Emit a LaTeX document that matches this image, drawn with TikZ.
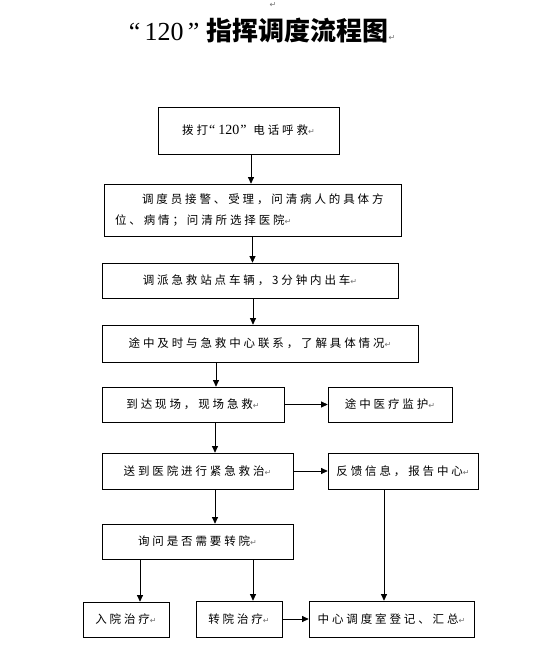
\documentclass[tikz,border=0pt]{standalone}
\usepackage{fontspec}
\setmainfont{Liberation Serif}
\newfontfamily\cjk[LetterSpace=25]{Noto Sans CJK SC}
\newfontfamily\cjktitle{Noto Sans CJK SC}
\newfontfamily\markfont{DejaVu Sans}
\usetikzlibrary{arrows.meta}
\newcommand{\pmark}{{\markfont\fontsize{8}{8}\selectfont\textcolor{black!55}{↵}}}

\begin{document}
\begin{tikzpicture}[x=1pt, y=-1pt,
        box/.style={draw, line width=0.7pt, inner sep=0pt,
                    font=\cjk\fontsize{11.5}{13}\selectfont},
        arr/.style={-{Triangle[length=6.5pt,width=6pt]}, line width=0.7pt}]
            \useasboundingbox (0,0) rectangle (548,661);
            % Title
            \node (topmark) at (273,5) {\pmark};
            \node (title) at (262,31) {\fontsize{26}{30}\selectfont “\,120\,”\hspace{7pt}{\cjktitle\bfseries 指挥调度流程图}\pmark};
            % Main column
            \node[box, minimum width=181pt, minimum height=47pt] (call)     at (248.5,130.5) {拨打\hspace{1pt}{\rmfamily\fontsize{14}{14}\selectfont“\hspace{3pt}120\hspace{1pt}”}\hspace{7pt}电话呼救\pmark};
            \node[box, minimum width=297pt, minimum height=52pt, text width=275pt, align=left, inner xsep=11pt,
                  font=\cjk\fontsize{11.5}{21}\selectfont]                     (accept)   at (252.5,210)   {\hspace*{27pt}调度员接警、受理，问清病人的具体方\\位、病情；问清所选择医院\pmark};
            \node[box, minimum width=296pt, minimum height=35pt] (dispatch) at (250,280.5)   {调派急救站点车辆，3分钟内出车\pmark};
            \node[box, minimum width=316pt, minimum height=37pt] (contact)  at (260,343.5)   {途中及时与急救中心联系，了解具体情况\pmark};
            \node[box, minimum width=182pt, minimum height=35pt] (arrive)   at (193,404.5)   {到达现场，现场急救\pmark};
            \node[box, minimum width=191pt, minimum height=36pt] (hospital) at (197.5,471)   {送到医院进行紧急救治\pmark};
            \node[box, minimum width=191pt, minimum height=35pt] (ask)      at (197.5,541.5) {询问是否需要转院\pmark};
            % Side column
            \node[box, minimum width=124pt, minimum height=35pt] (monitor)  at (390,404.5)   {途中医疗监护\pmark\hspace{8pt}};
            \node[box, minimum width=150pt, minimum height=36pt] (feedback) at (403,471)     {反馈信息，报告中心\pmark};
            % Bottom row
            \node[box, minimum width=86pt,  minimum height=35pt] (admit)    at (126,619.5)   {入院治疗\pmark};
            \node[box, minimum width=86pt,  minimum height=36pt] (transfer) at (239,619)     {转院治疗\pmark};
            \node[box, minimum width=165pt, minimum height=36pt] (record)   at (391.5,619)   {中心调度室登记、汇总\pmark};
            % Connectors
            \draw[arr] ([xshift=2.5pt]call.south)    -- ([xshift=2.5pt]call.south |- accept.north);
            \draw[arr] (accept.south)                -- (accept.south |- dispatch.north);
            \draw[arr] ([xshift=3pt]dispatch.south)  -- ([xshift=3pt]dispatch.south |- contact.north);
            \draw[arr] ([xshift=23pt]arrive.north |- contact.south) -- ([xshift=23pt]arrive.north);
            \draw[arr] (arrive.east)                 -- (arrive.east -| monitor.west);
            \draw[arr] ([xshift=22pt]arrive.south)   -- ([xshift=22pt]arrive.south |- hospital.north);
            \draw[arr] (hospital.east)               -- (hospital.east -| feedback.west);
            \draw[arr] ([xshift=17.5pt]hospital.south) -- ([xshift=17.5pt]hospital.south |- ask.north);
            \draw[arr] ([xshift=-19pt]feedback.south) -- ([xshift=-19pt]feedback.south |- record.north);
            \draw[arr] ([xshift=14pt]admit.north |- ask.south) -- ([xshift=14pt]admit.north);
            \draw[arr] ([xshift=14pt]transfer.north |- ask.south) -- ([xshift=14pt]transfer.north);
            \draw[arr] (transfer.east)               -- (transfer.east -| record.west);
        \end{tikzpicture}
\end{document}
